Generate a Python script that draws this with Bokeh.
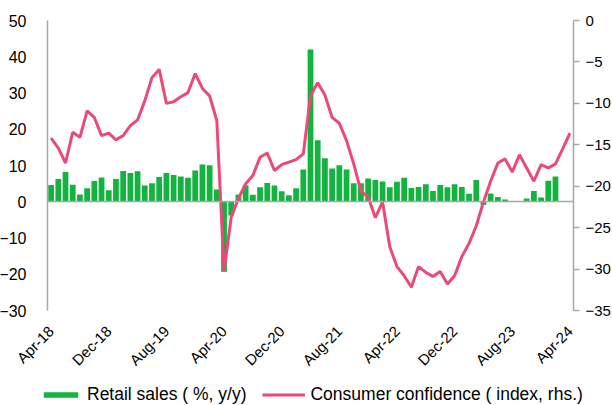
import math
from bokeh.plotting import figure
from bokeh.models import Range1d, LinearAxis, FixedTicker, Legend, LegendItem
from bokeh.embed import file_html
from bokeh.resources import INLINE

# ---- data (monthly, Apr-18 .. Apr-24) ----
month_index = list(range(73))
tick_positions = [0, 8, 16, 24, 32, 40, 48, 56, 64, 72]
tick_labels = ["Apr-18", "Dec-18", "Aug-19", "Apr-20", "Dec-20",
               "Aug-21", "Apr-22", "Dec-22", "Aug-23", "Apr-24"]

# Retail sales (% y/y), Apr-18 .. Feb-24
retail_sales = [4.6, 6.3, 8.2, 4.7, 2.0, 3.7, 5.7, 6.7, 3.2, 6.3,
                8.5, 7.9, 8.4, 4.5, 5.1, 6.8, 7.9, 7.4, 7.0, 6.6,
                8.6, 10.3, 10.1, 3.4, -19.3, -3.8, 2.0, 4.5, 1.9, 4.0,
                5.2, 4.5, 2.9, 1.8, 3.7, 8.9, 42.0, 17.0, 12.0, 9.2,
                10.1, 8.9, 5.1, 5.1, 6.4, 6.0, 5.6, 4.0, 5.5, 6.6,
                3.8, 4.1, 4.8, 3.0, 4.6, 4.0, 4.8, 4.1, 2.2, 6.0,
                -0.9, 2.3, 1.3, 0.6, 0.1, 0.0, 0.9, 3.0, 1.2, 5.8, 7.0]

# Consumer confidence (index, rhs), Apr-18 .. Apr-24
consumer_conf = [-14.2, -15.4, -17.2, -13.5, -14.1, -10.9, -11.7, -13.9, -13.6, -14.4,
                 -13.9, -12.7, -12.0, -9.7, -6.9, -5.9, -10.0, -9.8, -9.2, -8.7,
                 -6.4, -8.2, -9.1, -12.1, -30.3, -23.7, -21.5, -19.7, -18.7, -16.5,
                 -16.0, -18.1, -17.4, -17.1, -16.8, -16.1, -9.1, -7.5, -9.0, -11.7,
                 -12.4, -14.5, -17.3, -20.6, -21.3, -23.8, -21.9, -27.3, -29.7, -30.8,
                 -32.2, -29.7, -30.4, -30.9, -30.3, -31.8, -30.8, -28.5, -26.9, -24.8,
                 -21.9, -19.4, -17.2, -16.7, -18.3, -16.2, -17.8, -19.4, -17.4, -17.8,
                 -17.3, -15.5, -13.6]

left_min, left_max = -30, 50
right_min, right_max = -35, 0
left_ticks = list(range(left_min, left_max + 1, 10))
right_ticks = list(range(right_min, right_max + 1, 5))

GREEN = "#12B33F"
PINK = "#EB4A78"
AXIS_GREY = "#a6a6a6"
FONT = "Liberation Sans"

# ---- layout (canvas pixels) ----
W, H = 612, 405
plot_left, plot_right = 47, 573      # where the category area starts/ends
plot_top, plot_bottom = 20, 310      # where the value axes start/end

n = len(month_index)
x0, x1 = -0.5, n - 0.5
ppx = (plot_right - plot_left) / (x1 - x0)
xr = Range1d(x0 - plot_left / ppx, x1 + (W - plot_right) / ppx)

ppl = (plot_bottom - plot_top) / (left_max - left_min)
yr_left = Range1d(left_min - (H - plot_bottom) / ppl, left_max + plot_top / ppl)
ppr = (plot_bottom - plot_top) / (right_max - right_min)
yr_right = Range1d(right_min - (H - plot_bottom) / ppr, right_max + plot_top / ppr)

p = figure(width=W, height=H, output_backend="svg", toolbar_location=None,
           x_range=xr, y_range=yr_left,
           min_border_left=0, min_border_right=0, min_border_top=0,
           min_border_bottom=0, x_axis_type=None, y_axis_type=None)
p.extra_y_ranges = {"cc": yr_right}
p.grid.visible = False
p.outline_line_color = None
p.background_fill_color = "white"
p.border_fill_color = "white"

# left axis
yl = LinearAxis(ticker=FixedTicker(ticks=left_ticks), fixed_location=x0,
                bounds=(left_min, left_max))
yl.axis_line_color = AXIS_GREY
yl.axis_line_width = 1.5
yl.major_tick_line_color = None
yl.minor_tick_line_color = None
yl.major_label_standoff = 15
yl.major_label_text_font = FONT
yl.major_label_text_font_size = "16px"
yl.major_label_text_color = "black"
p.add_layout(yl, "left")

# right axis
yr = LinearAxis(y_range_name="cc", ticker=FixedTicker(ticks=right_ticks),
                fixed_location=x1, bounds=(right_min, right_max))
yr.axis_line_color = AXIS_GREY
yr.axis_line_width = 1.5
yr.major_tick_line_color = AXIS_GREY
yr.major_tick_line_width = 1.5
yr.major_tick_out = 6
yr.major_tick_in = 0
yr.minor_tick_line_color = None
yr.major_label_standoff = 6
yr.major_label_text_font = FONT
yr.major_label_text_font_size = "15px"
yr.major_label_text_color = "black"
p.add_layout(yr, "right")

# category labels at the bottom of the value range
xa = LinearAxis(ticker=FixedTicker(ticks=tick_positions), fixed_location=left_min)
xa.major_label_overrides = {t: l for t, l in zip(tick_positions, tick_labels)}
xa.major_label_orientation = math.pi / 4
xa.axis_line_color = None
xa.major_tick_line_color = None
xa.minor_tick_line_color = None
xa.major_label_standoff = 12
xa.major_label_text_font = FONT
xa.major_label_text_font_size = "15px"
xa.major_label_text_color = "black"
p.add_layout(xa, "below")

# zero line (category axis crossing at 0)
xz = LinearAxis(ticker=FixedTicker(ticks=[]), fixed_location=0, bounds=(x0, x1))
xz.axis_line_color = AXIS_GREY
xz.axis_line_width = 1.5
xz.major_tick_line_color = None
xz.minor_tick_line_color = None
xz.major_label_text_alpha = 0
p.add_layout(xz, "below")

bars = p.vbar(x=month_index[:len(retail_sales)], top=retail_sales, width=0.8,
              fill_color=GREEN, line_color=None)
line = p.line(month_index, consumer_conf, y_range_name="cc",
              line_color=PINK, line_width=3)

legend = Legend(items=[LegendItem(label="Retail sales ( %, y/y)", renderers=[bars]),
                       LegendItem(label="Consumer confidence ( index, rhs.)", renderers=[line])],
                location=(39, 0), orientation="horizontal",
                glyph_width=43, glyph_height=7, label_standoff=5, spacing=16,
                padding=0, margin=0, border_line_color=None,
                background_fill_alpha=0,
                label_text_font=FONT, label_text_font_size="17.5px",
                label_text_color="black", label_height=20)
p.add_layout(legend)

open("out.html", "w").write(file_html(p, INLINE))
